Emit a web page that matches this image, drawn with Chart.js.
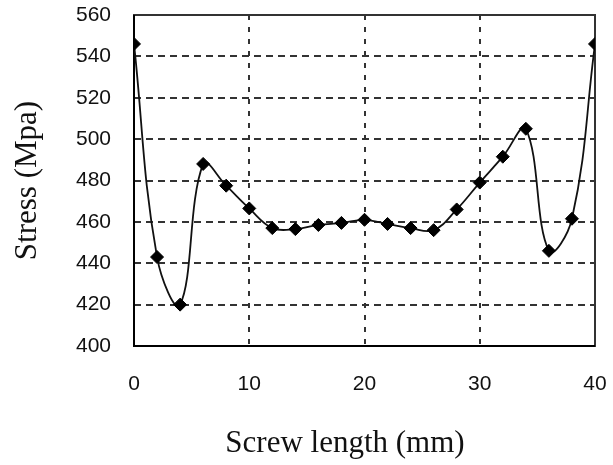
<!DOCTYPE html>
<html>
<head>
<meta charset="utf-8">
<script src="https://cdn.jsdelivr.net/npm/chart.js@4"></script>
<style>
  html, body { margin: 0; padding: 0; background: #fff; }
  #wrap { width: 613px; height: 465px; }
</style>
</head>
<body>
<div id="wrap"><canvas id="myChart" width="613" height="465"></canvas></div>
<script>
// screw length positions (mm)
const screwLength = [0, 2, 4, 6, 8, 10, 12, 14, 16, 18, 20, 22, 24, 26, 28, 30, 32, 34, 36, 38, 40];
// stress (MPa)
const stress = [546, 443, 420, 488, 477.5, 466.5, 457, 456.5, 458.5, 459.5, 461, 459, 457, 456, 466, 479, 491.5, 505, 446, 461.5, 546];

const xTicks = [0, 10, 20, 30, 40];
const yTicks = [400, 420, 440, 460, 480, 500, 520, 540, 560];

const xTitle = "Screw length (mm)";
const yTitle = "Stress (Mpa)";

const points = screwLength.map((x, i) => ({ x: x, y: stress[i] }));

// solid frame round the plot area
const framePlugin = {
  id: "frame",
  beforeDatasetsDraw: (chart) => {
    const { ctx, chartArea } = chart;
    ctx.save();
    ctx.lineWidth = 2;
    ctx.strokeStyle = "#333";
    ctx.setLineDash([]);
    ctx.strokeRect(chartArea.left, chartArea.top, chartArea.right - chartArea.left, chartArea.bottom - chartArea.top);
    ctx.strokeStyle = "#000";
    ctx.beginPath();
    ctx.moveTo(chartArea.left, chartArea.top);
    ctx.lineTo(chartArea.left, chartArea.bottom);
    ctx.lineTo(chartArea.right, chartArea.bottom);
    ctx.stroke();
    ctx.restore();
  },
};

// x title sits a little left of the axis centre in the original
const xTitlePlugin = {
  id: "xTitle",
  afterDraw: (chart) => {
    const { ctx, chartArea } = chart;
    ctx.save();
    ctx.font = '31px "Liberation Serif", "Times New Roman", serif';
    ctx.fillStyle = "#111";
    ctx.textAlign = "center";
    ctx.textBaseline = "middle";
    ctx.fillText(xTitle, chartArea.left + 211, 444);
    ctx.restore();
  },
};

new Chart(document.getElementById("myChart"), {
  type: "scatter",
  data: {
    datasets: [
      {
        data: points,
        showLine: true,
        tension: 0.4,
        borderColor: "#111",
        borderWidth: 1.8,
        pointStyle: "rectRot",
        pointRadius: 6.5,
        pointBorderWidth: 1,
        pointBackgroundColor: "#000",
        pointBorderColor: "#000",
      },
    ],
  },
  options: {
    responsive: false,
    animation: false,
    layout: {
      padding: { left: 0, right: 18, top: 15, bottom: 0 },
    },
    plugins: {
      legend: { display: false },
      tooltip: { enabled: false },
    },
    scales: {
      x: {
        type: "linear",
        min: 0,
        max: 40,
        afterBuildTicks: (scale) => {
          scale.ticks = xTicks.map((v) => ({ value: v }));
        },
        afterFit: (scale) => {
          scale.height = 119;
          scale.paddingLeft = 0;
          scale.paddingRight = 0;
        },
        ticks: {
          padding: 26,
          color: "#111",
          font: { family: '"Liberation Sans", Arial, sans-serif', size: 21 },
        },
        grid: {
          color: "#333",
          lineWidth: 2,
          drawTicks: false,
        },
        border: { display: false, dash: [5, 7] },
      },
      y: {
        min: 400,
        max: 560,
        afterBuildTicks: (scale) => {
          scale.ticks = yTicks.map((v) => ({ value: v }));
        },
        afterFit: (scale) => {
          scale.width = 134;
          scale.paddingTop = 0;
          scale.paddingBottom = 0;
        },
        ticks: {
          padding: 23,
          color: "#111",
          font: { family: '"Liberation Sans", Arial, sans-serif', size: 21 },
        },
        grid: {
          color: "#333",
          lineWidth: 2,
          drawTicks: false,
        },
        border: { display: false, dash: [7, 5] },
        title: {
          display: true,
          text: yTitle,
          color: "#111",
          padding: { top: 9, bottom: 0 },
          font: { family: '"Liberation Serif", "Times New Roman", serif', size: 31 },
        },
      },
    },
  },
  plugins: [framePlugin, xTitlePlugin],
});
</script>
</body>
</html>
